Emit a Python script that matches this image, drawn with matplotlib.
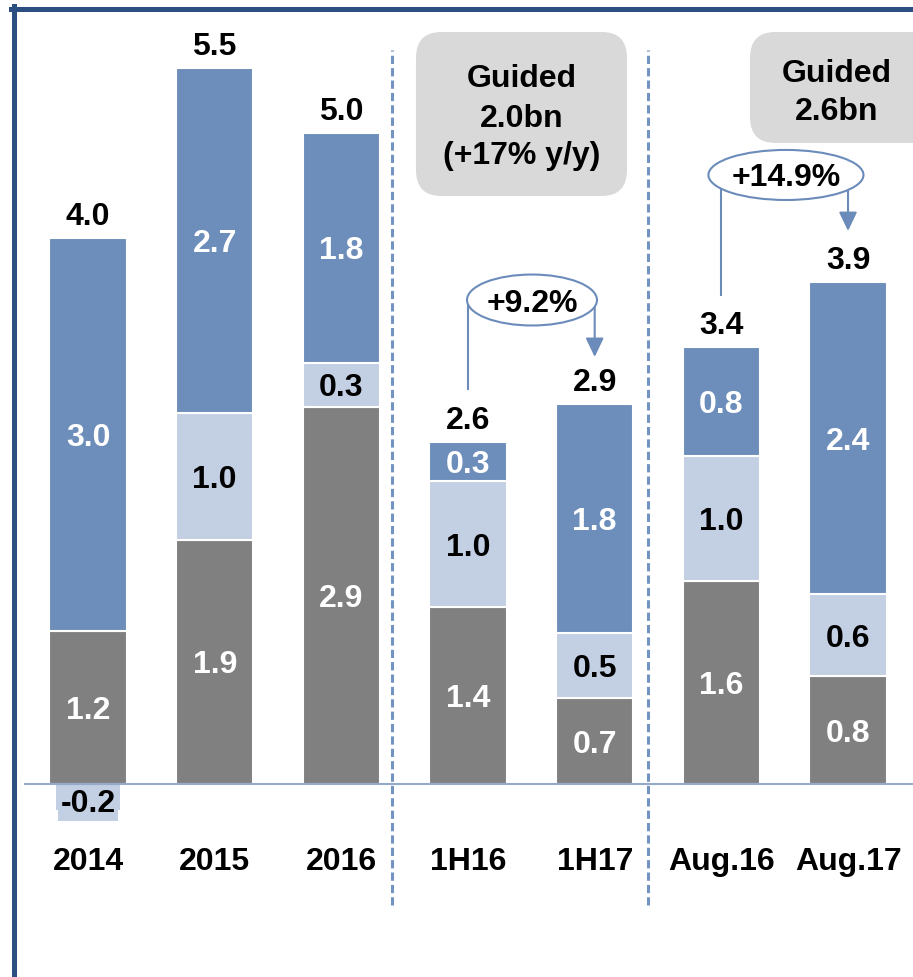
import matplotlib.pyplot as plt
from matplotlib.patches import Ellipse, FancyBboxPatch
from matplotlib.lines import Line2D

plt.rcParams['font.family'] = ['Liberation Sans', 'DejaVu Sans']

# data
categories = ['2014', '2015', '2016', '1H16', '1H17', 'Aug.16', 'Aug.17']
gray_vals = [1.18, 1.88, 2.90, 1.36, 0.66, 1.56, 0.83]
light_vals = [-0.2, 0.97, 0.34, 0.97, 0.50, 0.96, 0.63]
blue_vals = [3.02, 2.66, 1.77, 0.30, 1.76, 0.84, 2.40]
growth_labels = ['+9.2%', '+14.9%']
growth_pairs = [(3, 4), (5, 6)]
guided_texts = [['Guided', '2.0bn', '(+17% y/y)'], ['Guided', '2.6bn']]

GRAY = '#808080'
LIGHT = '#C3CFE2'
BLUE = '#6D8EBA'
LINE = '#6B8CBA'
NAVY = '#2B4F81'
FS = 23

fig = plt.figure(figsize=(9.13, 9.77), dpi=100)
ax = fig.add_axes([0, 0, 1, 1])
ax.set_xlim(-0.695, 6.513)
ax.set_ylim(-1.485, 6.031)
ax.axis('off')

x = list(range(len(categories)))
w = 0.61

for i in x:
    g, l, b = gray_vals[i], light_vals[i], blue_vals[i]
    ax.bar(i, g, w, color=GRAY, edgecolor='white', linewidth=1.5, zorder=2)
    if l >= 0:
        ax.bar(i, l, w, bottom=g, color=LIGHT, edgecolor='white', linewidth=1.5, zorder=2)
        bb = g + l
    else:
        ax.bar(i, l, 0.51, color=LIGHT, linewidth=0, zorder=2)
        bb = g
    ax.bar(i, b, w, bottom=bb, color=BLUE, edgecolor='white', linewidth=1.5, zorder=2)

    # segment labels
    ax.text(i, g / 2, f'{g:.1f}', ha='center', va='center_baseline', color='white',
            fontsize=FS, fontweight='bold', zorder=4)
    if l >= 0:
        ax.text(i, g + l / 2, f'{l:.1f}', ha='center', va='center_baseline', color='black',
                fontsize=FS, fontweight='bold', zorder=4)
    else:
        ax.text(i, -0.125, f'{l:.1f}', ha='center', va='center_baseline', color='black',
                fontsize=FS, fontweight='bold', zorder=4,
                bbox=dict(boxstyle='square,pad=0.08', facecolor=LIGHT, edgecolor='none'))
    ax.text(i, bb + b / 2, f'{b:.1f}', ha='center', va='center_baseline', color='white',
            fontsize=FS, fontweight='bold', zorder=4)

    # total on top
    total = g + l + b
    ax.text(i, bb + b + 0.1, f'{total:.1f}', ha='center', va='baseline', color='black',
            fontsize=FS, fontweight='bold', zorder=4)

    ax.text(i, -0.57, categories[i], ha='center', va='center_baseline', color='black',
            fontsize=FS, fontweight='bold')

# zero line
ax.plot([-0.497, 6.6], [0, 0], color='#94A9CC', lw=1.5, zorder=3)

# dashed separators
for sx in [2.4, 4.421]:
    ax.plot([sx, sx], [-0.931, 5.646], color='#7394C3', lw=2.2,
            linestyle=(0, (2.7, 1.35)), zorder=1)

# guided boxes
boxes = [(2.589, 4.523, 1.666, 1.262), (5.226, 4.931, 1.6, 0.854)]
text_pos = [(3.426, [5.45, 5.14, 4.86]), (5.913, [5.492, 5.2])]
for (bx, by, bw, bh), (tx, tys), lines in zip(boxes, text_pos, guided_texts):
    ax.add_patch(FancyBboxPatch((bx, by), bw, bh,
                                boxstyle='round,pad=0,rounding_size=0.2',
                                facecolor='#D9D9D9', edgecolor='none', zorder=1))
    for ty, s in zip(tys, lines):
        ax.text(tx, ty, s, ha='center', va='center_baseline', color='black',
                fontsize=FS, fontweight='bold', zorder=4)

# growth callouts
ell = [(3.505, 3.723, 1.026, 0.392), (5.510, 4.685, 1.224, 0.385)]
ends = [(3.04, 3.285), (3.762, 4.254)]
for (a, b), lab, (cx, cy, ew, eh), (y_left, y_tip) in zip(growth_pairs, growth_labels, ell, ends):
    ax.plot([a, a], [y_left, cy], color=LINE, lw=1.5, zorder=5)
    ax.annotate('', xy=(b, y_tip), xytext=(b, cy),
                arrowprops=dict(arrowstyle='-|>,head_length=1.15,head_width=0.55',
                                mutation_scale=10, color=LINE, lw=1.5,
                                shrinkA=0, shrinkB=0), zorder=5)
    ax.add_patch(Ellipse((cx, cy), ew, eh, facecolor='white', edgecolor=LINE,
                         lw=1.5, zorder=6))
    ax.text(cx, cy, lab, ha='center', va='center_baseline', color='black',
            fontsize=FS, fontweight='bold', zorder=7)

# frame (left and top)
fig.add_artist(Line2D([13.5 / 913, 13.5 / 913], [0, 1 - 6 / 977], color=NAVY, lw=3.6,
                      transform=fig.transFigure))
fig.add_artist(Line2D([11 / 913, 1], [1 - 8.5 / 977, 1 - 8.5 / 977], color=NAVY, lw=3.6,
                      transform=fig.transFigure))

fig.savefig('out.png', dpi=100)
